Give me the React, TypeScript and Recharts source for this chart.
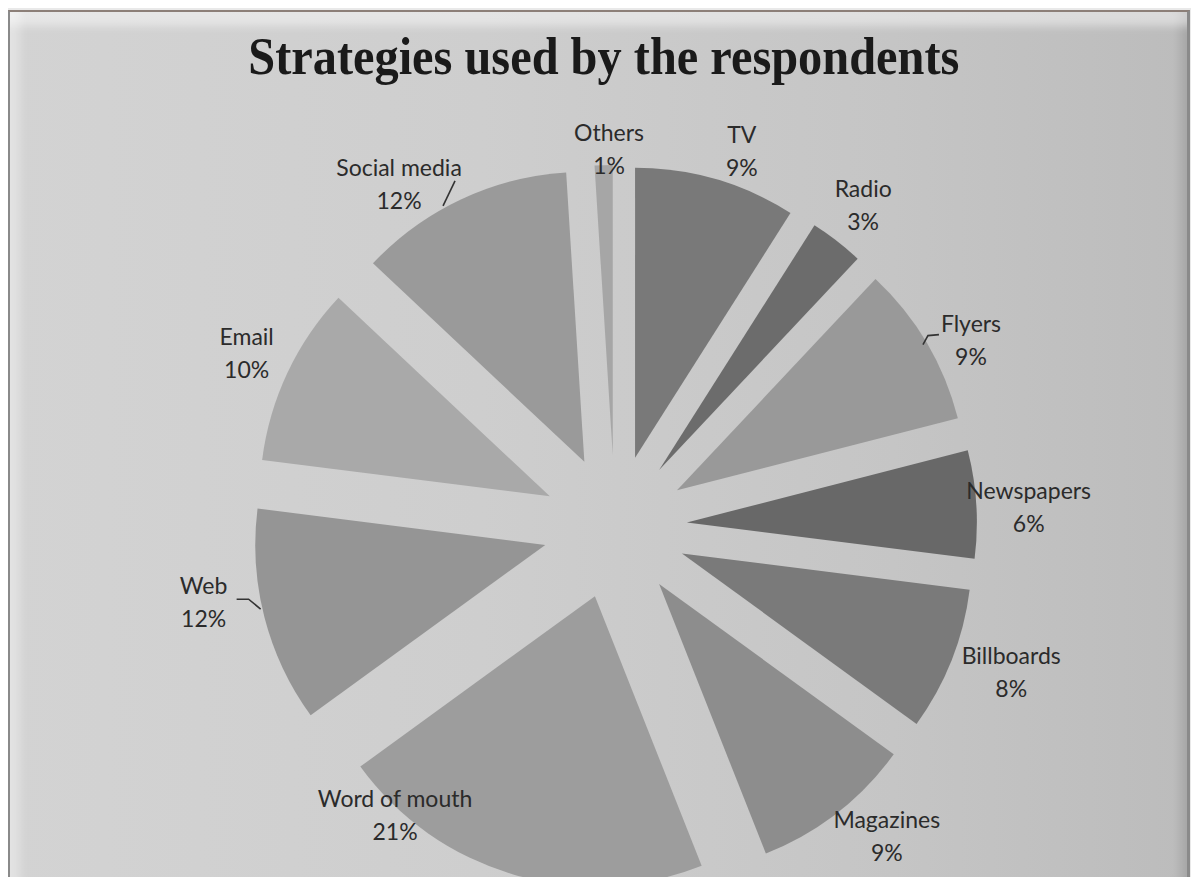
import React from 'react';
import { PieChart, Pie, Cell, Sector } from 'recharts';

const categories = ['TV', 'Radio', 'Flyers', 'Newspapers', 'Billboards', 'Magazines', 'Word of mouth', 'Web', 'Email', 'Social media', 'Others'];
const shares = [9, 3, 9, 6, 8, 9, 21, 12, 10, 12, 1];

const sliceColors = ['#797979', '#6c6c6c', '#999999', '#686868', '#7a7a7a', '#8d8d8d', '#9d9d9d', '#959595', '#a9a9a9', '#9a9a9a', '#a6a6a6'];

// label placement (clockwise angle delta in degrees, distance from pie centre)
const labelPlacement: [number, number][] = [
  [3.2, 394], [0.6, 406], [3.6, 404], [1.4, 418], [-1.2, 427], [-3.6, 417],
  [20.3, 363], [3.4, 415], [-0.2, 402], [-6.8, 400], [1.5, 374],
];
// leader line offsets relative to label centre
const leaders: Record<string, [number, number][]> = {
  'Social media': [[40, 18], [52, -7]],
  Flyers: [[-52, 1], [-47, -8], [-36, -9]],
  Web: [[29, -7], [41, -7], [53, 3]],
};

const data = categories.map((name, i) => ({ name, value: shares[i] }));

const EXPLODE = 72;
const RAD = Math.PI / 180;

const ExplodedSector = (props: any) => {
  const { cx, cy, midAngle, innerRadius, outerRadius, startAngle, endAngle, fill } = props;
  const dx = EXPLODE * Math.cos(midAngle * RAD);
  const dy = -EXPLODE * Math.sin(midAngle * RAD);
  return (
    <Sector
      cx={cx + dx}
      cy={cy + dy}
      innerRadius={innerRadius}
      outerRadius={outerRadius}
      startAngle={startAngle}
      endAngle={endAngle}
      fill={fill}
      stroke="none"
    />
  );
};

const labelFont = { fontFamily: 'Lato, Open Sans, sans-serif', fontSize: 23 };

const renderLabel = (props: any) => {
  const { cx, cy, midAngle, index, percent, name } = props;
  const [dAng, r] = labelPlacement[index];
  const a = (midAngle - dAng) * RAD;
  const x = cx + r * Math.cos(a) - 4;
  const y = cy - r * Math.sin(a) - 5;
  const lead = leaders[name];
  return (
    <g>
      {lead && (
        <polyline
          points={lead.map(([ox, oy]) => `${x + 4 + ox},${y + 5 + oy}`).join(' ')}
          fill="none"
          stroke="#333"
          strokeWidth={1.6}
        />
      )}
      <text x={x} y={y - 16} textAnchor="middle" dominantBaseline="central" fill="#2b2b2b" style={labelFont}>
        {name}
      </text>
      <text x={x} y={y + 17} textAnchor="middle" dominantBaseline="central" fill="#2b2b2b" style={labelFont}>
        {`${Math.round(percent * 100)}%`}
      </text>
    </g>
  );
};

export default function App() {
  return (
    <div style={{ margin: -8, width: 1199, height: 885, position: 'relative', background: '#e9e9e9', overflow: 'hidden' }}>
      <div
        style={{
          position: 'absolute',
          left: 8,
          top: 10,
          width: 1182,
          height: 870,
          boxSizing: 'border-box',
          borderTop: '2px solid #8c7f78',
          borderLeft: '2px solid #8a8a8a',
          borderRight: '3px solid #8a8a8a',
          borderBottom: '3px solid #6e6e6e',
          background: 'linear-gradient(to right, #d3d3d3 0%, #cecece 40%, #c5c5c5 75%, #bcbcbc 100%)',
          boxShadow: 'inset 18px 0 10px -8px rgba(255,255,255,0.35), inset 0 22px 8px -8px rgba(255,255,255,0.45), inset -14px 0 10px -8px rgba(0,0,0,0.12)',
        }}
      />
      <div
        style={{
          position: 'absolute',
          left: 0,
          width: 1199,
          top: 27,
          textAlign: 'center',
          fontFamily: 'Liberation Serif, Times New Roman, serif',
          fontWeight: 'bold',
          fontSize: 52,
          color: '#1a1a1a',
          transform: 'translateX(4px) scaleX(0.93)',
          transformOrigin: '604px 0',
        }}
      >
        Strategies used by the respondents
      </div>
      <div style={{ position: 'absolute', left: 0, top: 0 }}>
        <PieChart width={1199} height={885}>
          <Pie
            data={data}
            dataKey="value"
            nameKey="name"
            cx={610}
            cy={522}
            outerRadius={290}
            startAngle={90}
            endAngle={-270}
            stroke="none"
            isAnimationActive={false}
            labelLine={false}
            label={renderLabel}
            shape={ExplodedSector}
            activeShape={ExplodedSector}
            inactiveShape={ExplodedSector}
          >
            {data.map((d, i) => (
              <Cell key={d.name} fill={sliceColors[i]} />
            ))}
          </Pie>
        </PieChart>
      </div>
    </div>
  );
}
